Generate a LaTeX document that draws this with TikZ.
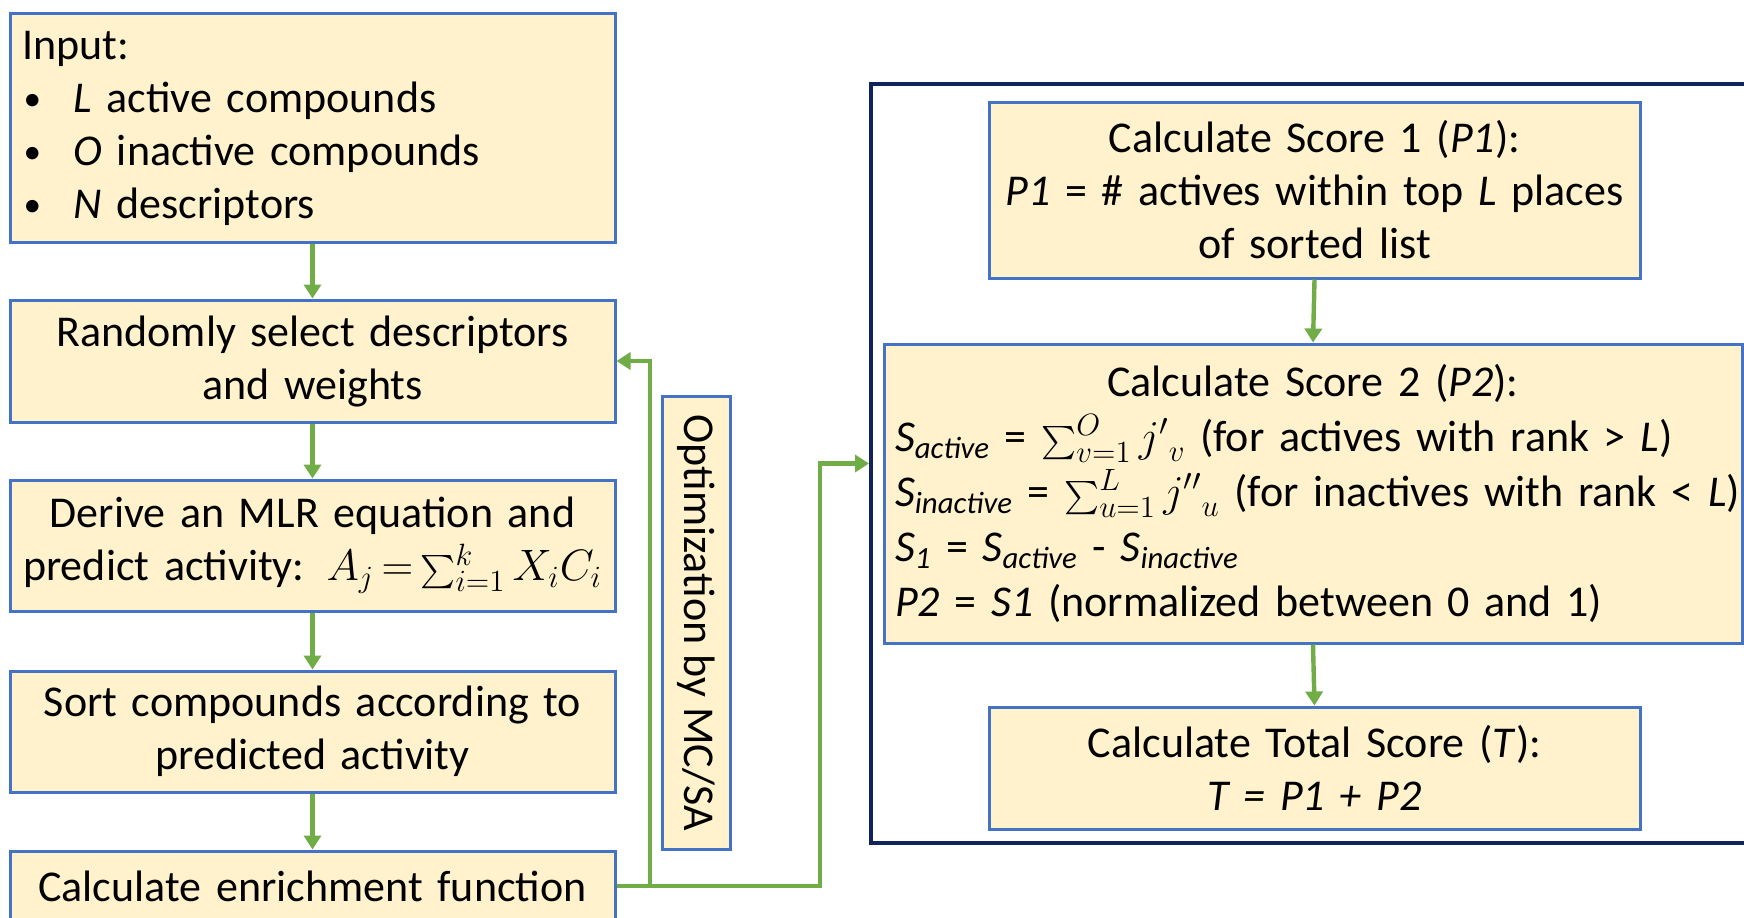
\RequirePackage{fix-cm}
\documentclass[tikz,border=0pt]{standalone}
\usepackage[no-math]{fontspec}
\usepackage{exscale}
\setmainfont{Carlito}
\usetikzlibrary{arrows.meta}
\definecolor{boxfill}{HTML}{FFF2CC}
\definecolor{boxline}{HTML}{4472C4}
\definecolor{arrgreen}{HTML}{70AD47}
\definecolor{navyframe}{HTML}{10245A}
\newcommand{\mainsz}{\fontsize{22pt}{26.5pt}\selectfont}
\newcommand{\bul}{\makebox[25.5pt][l]{\hspace{0.5pt}\raisebox{1pt}{\scalebox{0.8}{\textbullet}}}}
\newcommand{\ssum}{\mathop{\hbox{\scalebox{0.8}{$\textstyle\sum$}}}\nolimits}
\begin{document}
\begin{tikzpicture}[x=0.5pt,y=-0.5pt,
  box/.style={draw=boxline, fill=boxfill, line width=1.5pt, inner sep=0pt, font=\mainsz},
  arr/.style={draw=arrgreen, line width=2.2pt, -{Triangle[length=7pt,width=8.5pt]}},
  gline/.style={draw=arrgreen, line width=2.2pt}]
\useasboundingbox (0,0) rectangle (1744,917);
\fill[white] (0,0) rectangle (1744,917);
\begin{scope}
\clip (0,0) rectangle (1744,917);
% left column
\node[box, minimum width=302.5pt, minimum height=114.5pt, text width=290pt, align=left] (inp) at (312.5,128)
 {Input:\\ \bul\textit{L} active compounds\\ \bul\textit{O} inactive compounds\\ \bul\textit{N} descriptors};
\node[box, minimum width=302.5pt, minimum height=61pt, text width=295pt, align=center] (rnd) at (312.5,361)
 {Randomly select descriptors\\ and weights};
\node[box, minimum width=302.5pt, minimum height=65.5pt, text width=300pt, align=center] (der) at (312.5,545.5)
 {Derive an MLR equation and\\ \mbox{predict activity: $\thickmuskip=3mu A_j=\ssum_{i=1}^{k}X_iC_i$}};
\node[box, minimum width=302.5pt, minimum height=60.5pt, text width=295pt, align=center] (srt) at (312.5,731.5)
 {Sort compounds according to\\ predicted activity};
\node[box, minimum width=302.5pt, minimum height=35pt, text width=295pt, align=center] (enr) at (312.5,886)
 {Calculate enrichment function};
% optimization label
\node[box, rotate=-90, minimum width=226.5pt, minimum height=34pt] (opt) at (696,622.5)
 {Optimization by MC/SA};
% right frame
\node[draw=navyframe, line width=2pt, minimum width=449.5pt, minimum height=379.5pt, inner sep=0pt] (frame) at (1320.5,463.5) {};
\node[box, minimum width=325.5pt, minimum height=88pt, text width=320pt, align=center] (s1) at (1314.5,190)
 {Calculate Score 1 (\textit{P1}):\\ \textit{P1} = \# actives within top \textit{L} places\\ of sorted list};
\node[box, minimum width=429pt, minimum height=149.5pt, text width=426pt] (s2) at (1313,493.5)
 {\fontsize{22pt}{27.5pt}\selectfont\centering Calculate Score 2 (\textit{P2}):\par
  \raggedright\leftskip=4pt\lineskiplimit=-10pt
  \mbox{\textit{S}\textsubscript{\textit{active}} = $\ssum_{v=1}^{O}{j'}_{v}$ (for actives with rank > \textit{L})}\\
  \mbox{\textit{S}\textsubscript{\textit{inactive}} = $\ssum_{u=1}^{L}{j''}_{u}$ (for inactives with rank < \textit{L})}\\
  \mbox{\textit{S}\textsubscript{\textit{1}} = \textit{S}\textsubscript{\textit{active}} - \textit{S}\textsubscript{\textit{inactive}}}\\
  \mbox{\textit{P2} = \textit{S1} (normalized between 0 and 1)}\par\vspace*{4pt}};
\node[box, minimum width=325.5pt, minimum height=61pt, text width=320pt, align=center] (tot) at (1314.5,768)
 {Calculate Total Score (\textit{T}):\\ \textit{T = P1 + P2}};
% connectors
\draw[arr] (inp.south) -- (rnd.north);
\draw[arr] (rnd.south) -- (der.north);
\draw[arr] (der.south) -- (srt.north);
\draw[arr] (srt.south) -- (enr.north);
\draw[arr] (s1.south) -- (s2.north);
\draw[arr] (s2.south) -- (tot.north);
\coordinate (fbA) at (650,886);
\coordinate (fbB) at (650,361);
\coordinate (fbC) at (820,886);
\draw[gline] (enr.east) -- (fbA);
\draw[arr] (fbA) -- (fbB) -- (rnd.east);
\draw[arr] (fbA) -- (fbC) |- (frame.west);
\end{scope}
\end{tikzpicture}
\end{document}
